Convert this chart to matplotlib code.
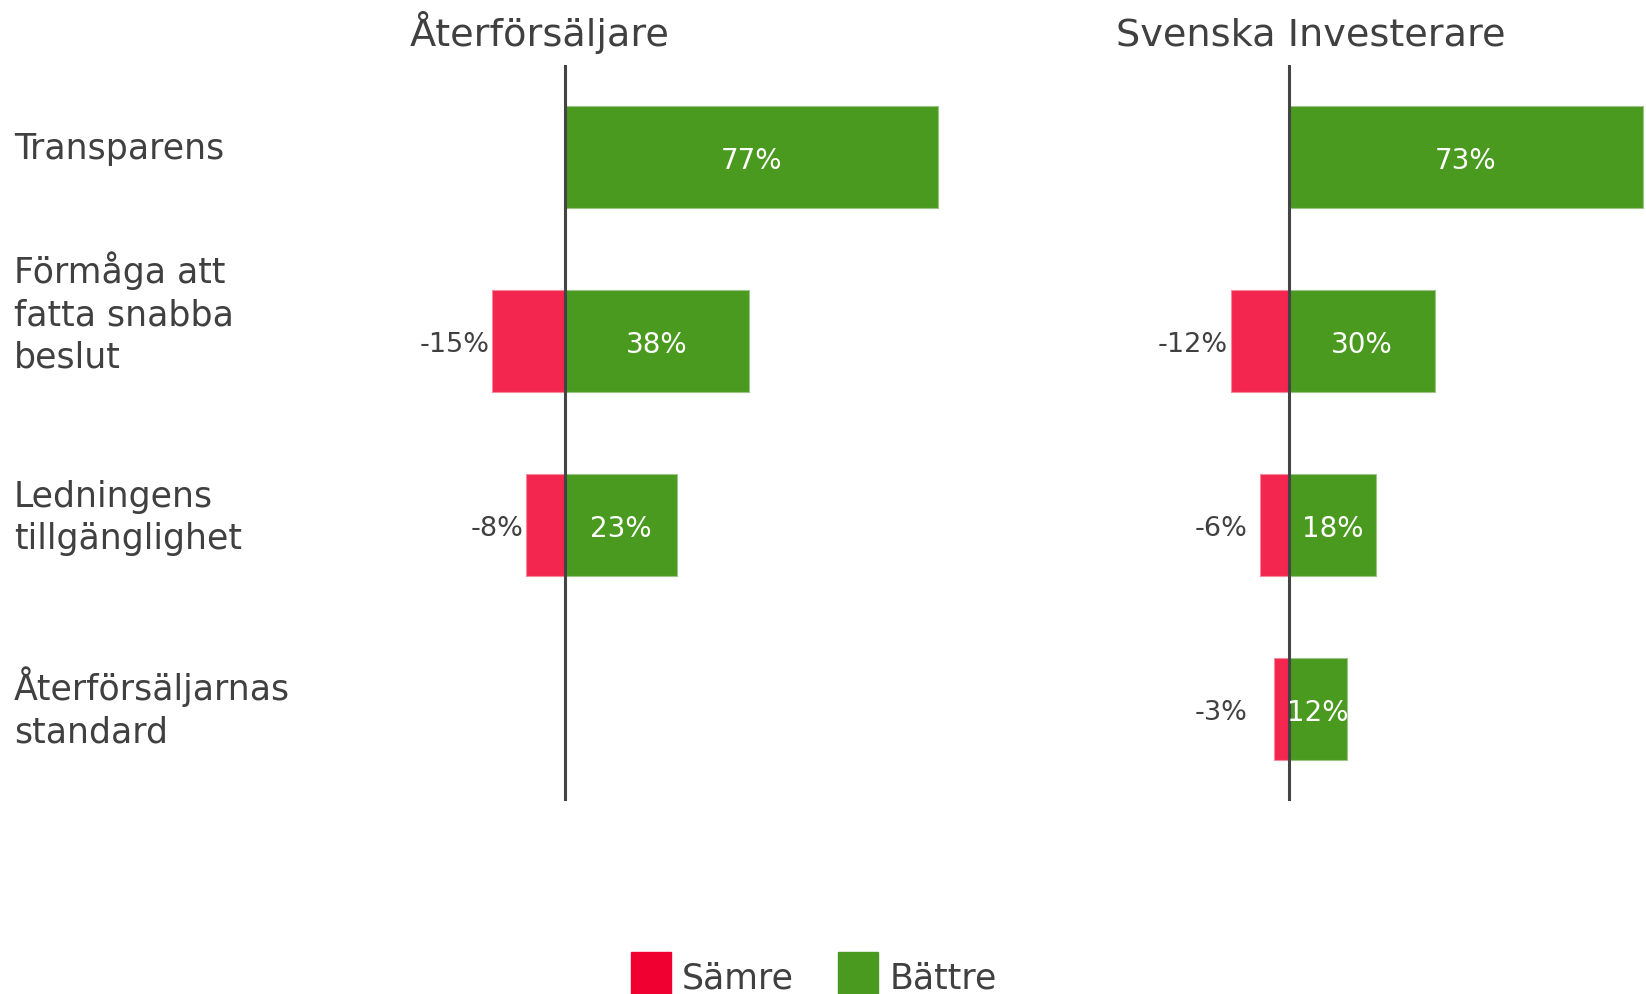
import matplotlib
matplotlib.use('Agg')
import matplotlib.pyplot as plt
import matplotlib.transforms as mtransforms
import numpy as np
from matplotlib.patches import Patch

WIDTH_PXL = 1646
HEIGHT_PXL = 995
DPI = 100

RED = '#F00030'
RED_BAR = '#F2264F'
GREEN = '#4A9A20'
TEXT = '#404040'
LINE = '#444444'

# data
categories = ['Transparens', 'Förmåga att\nfatta snabba\nbeslut',
              'Ledningens\ntillgänglighet', 'Återförsäljarnas\nstandard']
panel_titles = ['Återförsäljare', 'Svenska Investerare']
legend_labels = ['Sämre', 'Bättre']

retail_worse = [np.nan, -15, -8, np.nan]
retail_better = [77, 38, 23, np.nan]
investor_worse = [np.nan, -12, -6, -3]
investor_better = [73, 30, 18, 12]

# layout (pixels, full size)
PX_PER_PCT = 4.85
ZERO_X = [565, 1289]
XLIMS = [(-35, 85), (-35, 73.6)]
AX_TOP = 66
AX_BOTTOM = 802
TITLE_X = [540, 1311]
TITLE_BASELINE = 46
LABEL_X = 14
LABEL_NUDGE_PX = [9, 29, 8, 2]


def px_x(p):
    return p / WIDTH_PXL


def px_y(p):
    return 1 - p / HEIGHT_PXL


fig = plt.figure(figsize=(WIDTH_PXL / DPI, HEIGHT_PXL / DPI), dpi=DPI)
plt.rcParams['font.family'] = 'DejaVu Sans'

panels = [(retail_worse, retail_better), (investor_worse, investor_better)]
y = np.arange(len(categories))
axes = []
for i, (worse, better) in enumerate(panels):
    lo, hi = XLIMS[i]
    left = ZERO_X[i] + lo * PX_PER_PCT
    width = (hi - lo) * PX_PER_PCT
    ax = fig.add_axes([px_x(left), px_y(AX_BOTTOM),
                       px_x(width), (AX_BOTTOM - AX_TOP) / HEIGHT_PXL])
    ax.set_xlim(lo, hi)
    ax.set_ylim(len(categories) - 0.5, -0.5)
    ax.axis('off')

    w = np.array(worse, dtype=float)
    b = np.array(better, dtype=float)
    ax.barh(y, np.nan_to_num(w), height=0.55, color=RED_BAR,
            edgecolor='#F7899C', linewidth=0.8)
    ax.barh(y, np.nan_to_num(b), height=0.55, color=GREEN,
            edgecolor='#9CC487', linewidth=0.8)
    ax.axvline(0, color=LINE, lw=2.2, zorder=5)

    for yi, v in zip(y, b):
        if not np.isnan(v):
            ax.text(v / 2, yi, f'{v:.0f}%', color='white', fontsize=20,
                    ha='center', va='center_baseline', zorder=6)
    for yi, v in zip(y, w):
        if not np.isnan(v):
            ax.text(min(v - 0.6, -8.5), yi, f'{v:.0f}%', color=TEXT,
                    fontsize=19.5, ha='right', va='center_baseline')

    fig.text(px_x(TITLE_X[i]), px_y(TITLE_BASELINE), panel_titles[i],
             fontsize=27.5, color=TEXT, ha='center', va='baseline')
    axes.append(ax)

# category labels on the left
ax0 = axes[0]
trans = mtransforms.blended_transform_factory(fig.transFigure, ax0.transData)
for yi, label, nudge in zip(y, categories, LABEL_NUDGE_PX):
    t = mtransforms.offset_copy(trans, fig=fig, y=nudge, units='dots')
    fig.text(px_x(LABEL_X), yi, label, transform=t, fontsize=25,
             color=TEXT, ha='left', va='center', linespacing=1.3)

handles = [Patch(color=RED), Patch(color=GREEN)]
fig.legend(handles, legend_labels, loc='upper left',
           bbox_to_anchor=(px_x(631), px_y(953)), frameon=False, ncol=2,
           fontsize=25, handlelength=1.15, handleheight=1.75,
           handletextpad=0.32, columnspacing=1.27, borderpad=0,
           borderaxespad=0, labelcolor=TEXT)

fig.savefig('out.png', dpi=DPI)
